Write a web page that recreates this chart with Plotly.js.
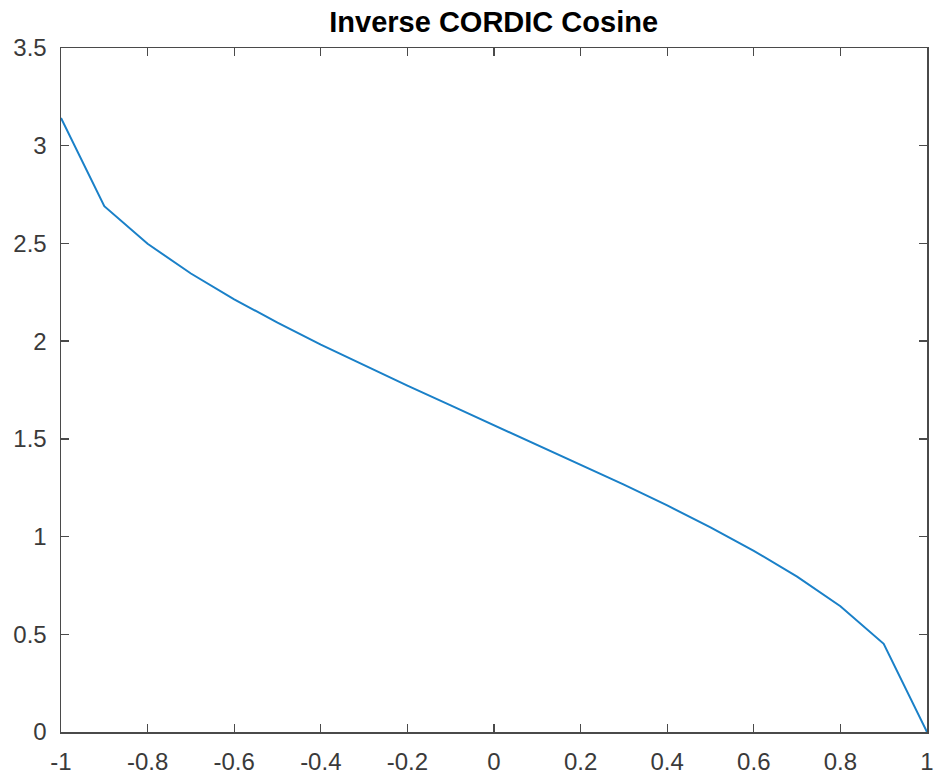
<!DOCTYPE html>
<html>
<head>
<meta charset="utf-8">
<script src="https://cdn.plot.ly/plotly-3.0.1.min.js"></script>
<style>
  html, body { margin: 0; padding: 0; background: #fff; }
  #chart { width: 935px; height: 777px; }
</style>
</head>
<body>
<div id="chart"></div>
<script>
// Data
const xValues = [-1, -0.9, -0.8, -0.7, -0.6, -0.5, -0.4, -0.3, -0.2, -0.1, 0, 0.1, 0.2, 0.3, 0.4, 0.5, 0.6, 0.7, 0.8, 0.9, 1];
const yValues = [3.1416, 2.6906, 2.4981, 2.3462, 2.2143, 2.0944, 1.9823, 1.8755, 1.7722, 1.6710, 1.5708, 1.4706, 1.3694, 1.2661, 1.1593, 1.0472, 0.9273, 0.7954, 0.6435, 0.4510, 0];
const xTickVals = [-1, -0.8, -0.6, -0.4, -0.2, 0, 0.2, 0.4, 0.6, 0.8, 1];
const xTickText = ["-1", "-0.8", "-0.6", "-0.4", "-0.2", "0", "0.2", "0.4", "0.6", "0.8", "1"];
const yTickVals = [0, 0.5, 1, 1.5, 2, 2.5, 3, 3.5];
const yTickText = ["0", "0.5", "1", "1.5", "2", "2.5", "3", "3.5"];
const chartTitle = "Inverse CORDIC Cosine";

const axisColor = "#4a4a4a";
const tickFont = { family: "Liberation Sans, Arial, sans-serif", size: 24, color: "#3a3a3a" };

const trace = {
  x: xValues,
  y: yValues,
  type: "scatter",
  mode: "lines",
  line: { color: "#1a80c8", width: 2 },
  hoverinfo: "skip"
};

const layout = {
  width: 935,
  height: 777,
  margin: { l: 61, r: 8, t: 48, b: 45, pad: 0 },
  paper_bgcolor: "#ffffff",
  plot_bgcolor: "#ffffff",
  showlegend: false,
  title: {
    text: "<b>" + chartTitle + "</b>",
    font: { family: "Liberation Sans, Arial, sans-serif", size: 29, color: "#000000" },
    x: 0.528, xanchor: "center",
    y: 0.972, yanchor: "middle"
  },
  xaxis: {
    range: [-1, 1],
    tickvals: xTickVals,
    ticktext: xTickText,
    ticks: "inside",
    ticklen: 8,
    tickwidth: 1.3,
    tickcolor: axisColor,
    showline: true,
    linecolor: axisColor,
    linewidth: 1.5,
    mirror: "allticks",
    showgrid: false,
    zeroline: false,
    tickfont: tickFont,
    ticklabelstandoff: 8,
    fixedrange: true
  },
  yaxis: {
    range: [0, 3.5],
    tickvals: yTickVals,
    ticktext: yTickText,
    ticks: "inside",
    ticklen: 8,
    tickwidth: 1.3,
    tickcolor: axisColor,
    showline: true,
    linecolor: axisColor,
    linewidth: 1.5,
    mirror: "allticks",
    showgrid: false,
    zeroline: false,
    tickfont: tickFont,
    ticklabelstandoff: 8,
    fixedrange: true
  }
};

Plotly.newPlot("chart", [trace], layout, { displayModeBar: false, staticPlot: true });
</script>
</body>
</html>
